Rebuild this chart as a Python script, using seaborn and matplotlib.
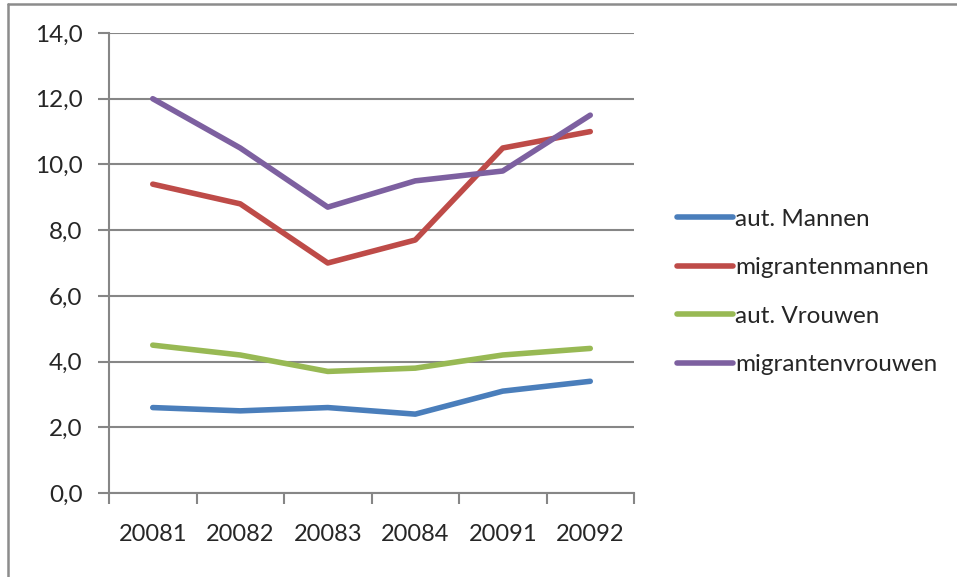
import pandas as pd
import numpy as np
import matplotlib.pyplot as plt
import seaborn as sns
from matplotlib.lines import Line2D

# data
periods = ["20081", "20082", "20083", "20084", "20091", "20092"]
aut_mannen = [2.6, 2.5, 2.6, 2.4, 3.1, 3.4]
migrantenmannen = [9.4, 8.8, 7.0, 7.7, 10.5, 11.0]
aut_vrouwen = [4.5, 4.2, 3.7, 3.8, 4.2, 4.4]
migrantenvrouwen = [12.0, 10.5, 8.7, 9.5, 9.8, 11.5]

series_names = ["aut. Mannen", "migrantenmannen", "aut. Vrouwen", "migrantenvrouwen"]
colors = ["#4A7EBB", "#BE4B48", "#98B954", "#7D60A0"]

df = pd.DataFrame({"periode": periods * 4,
                   "waarde": aut_mannen + migrantenmannen + aut_vrouwen + migrantenvrouwen,
                   "groep": np.repeat(series_names, len(periods))})

sns.set_style("white")
plt.rcParams['font.family'] = ['Lato', 'DejaVu Sans']

fig = plt.figure(figsize=(9.57, 5.77), dpi=100)
ax = fig.add_axes([0.1139, 0.1456, 0.5486, 0.7972])

sns.lineplot(data=df, x="periode", y="waarde", hue="groep", hue_order=series_names,
             palette=colors, linewidth=4, sort=False, ax=ax, legend=True)

ax.set_xlim(-0.5, len(periods) - 0.5)
ax.set_ylim(0, 14)
ax.set_yticks(np.arange(0, 15, 2))
ax.set_yticklabels([f"{v:.1f}".replace(".", ",") for v in np.arange(0, 15, 2)])
ax.set_xticks(range(len(periods)))
ax.set_xticklabels(periods)
ax.set_xticks(np.arange(-0.5, len(periods), 1), minor=True)
ax.tick_params(axis="x", which="major", length=0, pad=22, labelsize=17)
ax.tick_params(axis="x", which="minor", length=8, width=1.5, color="#868686", direction="out")
ax.tick_params(axis="y", length=8, width=1.5, color="#868686", direction="out", pad=11, labelsize=17.5)
ax.tick_params(bottom=True, left=True, which="both")

ax.grid(axis="y", color="#868686", linewidth=1.5)
ax.set_axisbelow(True)
for s in ["top", "right"]:
    ax.spines[s].set_visible(False)
for s in ["left", "bottom"]:
    ax.spines[s].set_color("#868686")
    ax.spines[s].set_linewidth(1.5)
ax.set_xlabel("")
ax.set_ylabel("")

leg = ax.legend(loc="upper left", bbox_to_anchor=(0.697, 0.655), bbox_transform=fig.transFigure,
                frameon=False, fontsize=17.5, handlelength=2.3, handletextpad=0.1,
                labelspacing=1.13, borderaxespad=0)
for h in leg.get_lines():
    h.set_linewidth(4)

# outer frame of the original chart object
fig.add_artist(Line2D([8 / 957, 1], [1 - 4 / 577, 1 - 4 / 577], color="#8c8c8c", linewidth=1.8))
fig.add_artist(Line2D([8 / 957, 8 / 957], [0, 1 - 4 / 577], color="#8c8c8c", linewidth=1.8))

fig.savefig("out.png", dpi=100)
